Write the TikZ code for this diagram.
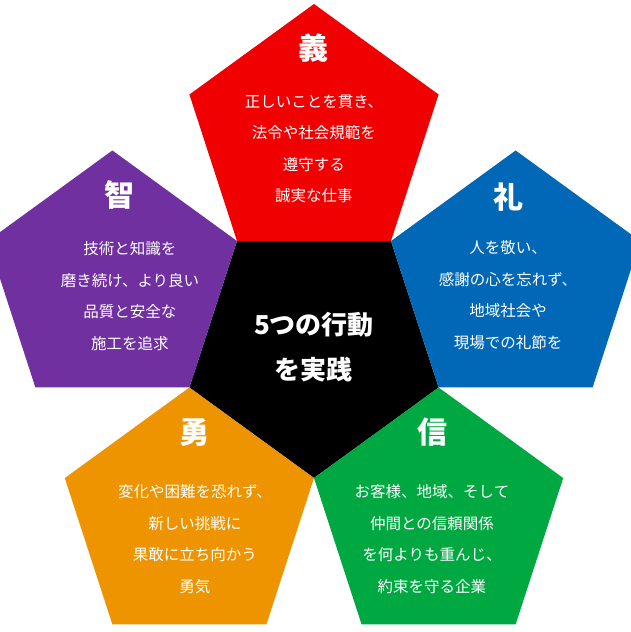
\documentclass[tikz,border=0pt]{standalone}
\usepackage{fontspec}
\usetikzlibrary{calc}
\newfontfamily\jp{Noto Sans CJK JP}
\begin{document}
\begin{tikzpicture}[x=1pt,y=1pt,
  ttl/.style={text=white,font=\jp\bfseries\fontsize{30}{30}\selectfont,inner sep=0pt},
  body/.style={text=white,font=\jp\fontsize{15.5}{31.5}\selectfont,align=center,inner sep=0pt},
  ctr/.style={text=white,font=\jp\bfseries\fontsize{26}{45}\selectfont,align=center,inner sep=0pt}]
\definecolor{cRed}{HTML}{F00000}
\definecolor{cBlue}{HTML}{0068B7}
\definecolor{cGreen}{HTML}{00A842}
\definecolor{cOrange}{HTML}{EE9400}
\definecolor{cPurple}{HTML}{7030A0}
\useasboundingbox (-314,-285) rectangle (316,347);
\fill[black] (270:131) -- (342:131) -- (54:131) -- (126:131) -- (198:131) -- cycle;
\foreach \t/\c in {90/cRed,18/cBlue,-54/cGreen,234/cOrange,162/cPurple}{
  \fill[\c] ($(\t:212)+(\t:131)$) -- ($(\t:212)+(\t+72:131)$) -- ($(\t:212)+(\t+144:131)$) -- ($(\t:212)+(\t+216:131)$) -- ($(\t:212)+(\t+288:131)$) -- cycle;
}
\node[ctr] (c) at (0,0) {5つの行動\\を実践};
\node[ttl] (t1) at (0,299) {義};
\node[body] (b1) at (0,198) {正しいことを貫き、\\法令や社会規範を\\遵守する\\誠実な仕事};
\node[ttl] (t2) at (194,150) {礼};
\node[body] (b2) at (194,52) {人を敬い、\\感謝の心を忘れず、\\地域社会や\\現場での礼節を};
\node[ttl] (t3) at (-194,152) {智};
\node[body] (b3) at (-184,51) {技術と知識を\\磨き続け、より良い\\品質と安全な\\施工を追求};
\node[ttl] (t4) at (-119,-85) {勇};
\node[body] (b4) at (-119,-192) {変化や困難を恐れず、\\新しい挑戦に\\果敢に立ち向かう\\勇気};
\node[ttl] (t5) at (118,-85) {信};
\node[body] (b5) at (118,-192) {お客様、地域、そして\\仲間との信頼関係\\を何よりも重んじ、\\約束を守る企業};
\end{tikzpicture}
\end{document}
